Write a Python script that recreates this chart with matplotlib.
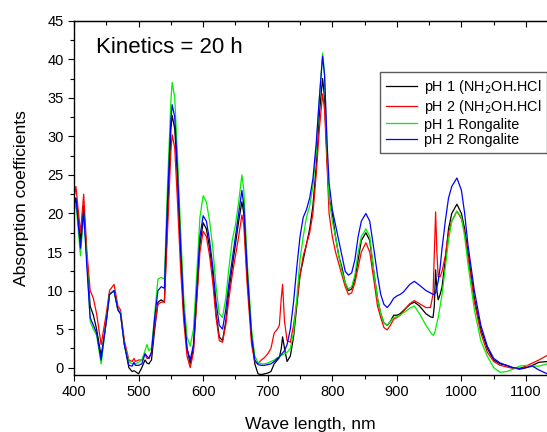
import matplotlib
matplotlib.use("Agg")
import matplotlib.pyplot as plt
from matplotlib.ticker import MultipleLocator

plt.rcParams['font.family'] = ['Liberation Sans', 'DejaVu Sans']

# ---------------- data ----------------
nm = [400, 403, 410, 415, 420, 425, 430, 435, 442, 450, 455, 462, 468, 472, 478,
      485, 490, 493, 495, 500, 505, 510, 513, 516, 520, 525, 530, 535, 540, 545,
      550, 552, 556, 560, 565, 570, 575, 580, 585, 590, 595, 600, 605, 610, 615,
      620, 625, 630, 635, 640, 645, 650, 655, 660, 663, 668, 675, 680, 685, 690,
      695, 700, 705, 710, 715, 718, 721, 723, 726, 730, 735, 740, 745, 750, 755,
      760, 765, 770, 775, 780, 785, 788, 792, 795, 800, 805, 810, 815, 820, 825,
      830, 835, 840, 845, 852, 858, 865, 870, 875, 880, 885, 890, 895, 900, 905,
      910, 915, 920, 927, 935, 945, 952, 956, 958, 960, 962, 964, 967, 970, 975,
      980, 985, 993, 1000, 1005, 1010, 1020, 1030, 1040, 1050, 1060, 1070, 1080,
      1090, 1100, 1110, 1120, 1133]

ph1_nh2oh = [21, 22, 16.5, 21, 14, 8, 6.8, 5, 1.5, 6, 9.5, 10, 7.5, 7, 3,
             0, -0.5, -0.4, -0.5, -0.8, 0, 1, 0.6, 0.5, 1, 5, 8.5, 8.8, 8.5, 20,
             31, 32.7, 31, 25, 15, 7, 2.5, 0.5, 2.5, 9, 16, 18.8, 18, 15.5, 12,
             7, 4, 3.5, 6, 10, 13, 16, 19, 21.5, 20, 12, 4, 0.5, -0.8, -0.9,
             -0.8, -0.7, -0.5, 0.5, 1, 1.3, 2.5, 4, 2.5, 0.8, 1.5, 4, 8, 12, 14,
             16, 18, 21, 26, 33, 37.5, 35, 27, 22, 20, 17, 14.5, 13, 11, 10,
             10.2, 11.5, 14, 16.5, 17.5, 16.5, 12, 9, 7, 5.8, 5.5, 6, 6.8, 6.8, 7,
             7.4, 7.8, 8.2, 8.5, 8, 7, 6.6, 6.5, 8, 12.7, 10, 8.8, 9.5, 10.5, 14,
             18, 20, 21.2, 20, 18, 15, 9, 5, 2.5, 1, 0.5, 0.3, 0,
             -0.2, 0, 0.3, 0.7, 0.8]

ph2_nh2oh = [22, 23.5, 17.5, 22.5, 15, 10, 9, 7, 3, 7, 10, 10.8, 8, 7.5, 3.5,
             1, 0.8, 1.2, 0.8, 1, 1, 1.8, 1.2, 1.2, 2, 5.5, 8.2, 8.5, 8.5, 18,
             28, 30.2, 28.5, 22, 13, 6, 1.5, 0, 2, 8.5, 15, 17.7, 17, 14.5, 11,
             6.5, 3.5, 3.3, 5.5, 9, 12, 14.5, 17, 19.8, 18.5, 11, 3, 0.8, 0.5, 1,
             1.3, 1.8, 2.5, 4.5, 5, 5.5, 9, 10.8, 6, 3.5, 3.3, 5.5, 8.5, 12, 14.5,
             16, 17.5, 20, 25, 31, 35.5, 33.5, 26, 20, 17, 15, 13.5, 12, 10.5, 9.5,
             9.7, 11, 13, 15, 16.2, 15, 11, 8, 6.5, 5.2, 4.9, 5.5, 6.3, 6.5, 6.8,
             7.3, 7.8, 8.3, 8.7, 8.3, 7.8, 7.8, 9.5, 15, 20.2, 15, 11.8, 11.8, 12.5, 14.5,
             17.5, 19, 20.3, 19.3, 17.5, 14.5, 8.5, 4.5, 2, 0.8, 0.3, 0.1, -0.1,
             -0.1, 0.2, 0.6, 1, 1.6]

ph1_rongalite = [20, 21.5, 14.5, 20, 14, 6, 5, 4.2, 0.5, 6, 9.5, 10, 7.5, 7.2, 3,
                 0.8, 0.5, 0.5, 0.5, 0.7, 1, 2.2, 3, 2.2, 2.5, 7, 11.5, 11.7, 11.5, 24,
                 34.5, 37, 35, 28, 18, 9, 4, 2.8, 5, 12, 19.5, 22.3, 21.5, 19, 15.5,
                 10.5, 7, 6.5, 9, 13, 16.5, 18.5, 21.5, 25, 23, 14, 5, 1.5, 0.7, 0.5,
                 0.5, 0.6, 0.8, 1, 1.3, 1.4, 1.6, 1.7, 1.8, 2, 2.5, 4.5, 9, 14, 17,
                 19.5, 21, 23.5, 28, 35, 40.8, 38, 28, 22, 19, 17, 14.5, 12.5, 11, 10.2,
                 10.5, 12, 15, 17, 18, 17, 12, 9, 7, 5.8, 5.5, 6, 6.5, 6.6, 6.8,
                 7.1, 7.4, 7.7, 8, 7, 5.5, 4.6, 4.2, 4.4, 5, 5.8, 6.5, 8, 9.5, 13,
                 16.5, 19, 20.3, 19.5, 17, 13.5, 7.5, 3.5, 1.5, 0, -0.6, -0.5, -0.2,
                 0.2, 0.3, 0.2, 0.2, 0.5]

ph2_rongalite = [21, 22, 15.5, 20.3, 13, 6.5, 5.5, 4.5, 1, 6, 9.5, 10, 7.5, 7, 3,
                 0.3, 0.2, 0.7, 0.3, 0.3, 0.5, 1.8, 1.5, 1.2, 2, 6.5, 10, 10.5, 10.3, 22,
                 32, 34.1, 32.5, 26, 16, 7.5, 2.5, 1, 3, 10, 17, 19.7, 19, 16.5, 13,
                 8.5, 5.5, 5, 7.5, 11, 14, 17, 20, 23, 21, 13, 4, 1, 0.4, 0.3,
                 0.3, 0.4, 0.5, 0.8, 1.2, 1.4, 1.7, 1.9, 2.2, 3, 5, 8.5, 13, 17, 19.5,
                 20.5, 22, 24.5, 29, 35, 40.4, 38, 29, 24, 20.5, 18.5, 16.5, 14.5, 12.5, 12,
                 12.3, 14, 17, 19, 20, 19, 15, 12, 9.5, 8.2, 7.8, 8.3, 9, 9.3, 9.5,
                 9.8, 10.3, 10.8, 11.2, 10.7, 10, 9.7, 9.5, 9.5, 9.7, 10.5, 11.2, 13, 15.5, 19,
                 22, 23.5, 24.6, 23, 20, 16, 10, 5.5, 2.8, 1.2, 0.6, 0.3, 0,
                 -0.1, 0, 0.2, -0.3, -0.8]

labels = ['pH 1 (NH$_2$OH.HCl', 'pH 2 (NH$_2$OH.HCl', 'pH 1 Rongalite', 'pH 2 Rongalite']
colors = ['#000000', '#ff0000', '#00ee00', '#0000ff']

# ---------------- figure ----------------
fig = plt.figure(figsize=(5.47, 4.32), dpi=100)
ax = fig.add_axes([74 / 547, 57 / 432, 1 - 74 / 547, (375 - 20.7) / 432])

for ys, lab, col in zip([ph1_nh2oh, ph2_nh2oh, ph1_rongalite, ph2_rongalite], labels, colors):
    ax.plot(nm, ys, color=col, lw=0.9, label=lab)

ax.set_xlim(400, 1132.5)
ax.set_ylim(-0.95, 45)
ax.xaxis.set_major_locator(MultipleLocator(100))
ax.xaxis.set_minor_locator(MultipleLocator(50))
ax.yaxis.set_major_locator(MultipleLocator(5))
ax.yaxis.set_minor_locator(MultipleLocator(2.5))
ax.tick_params(which='both', direction='out', labelsize=10.5, width=0.8)
ax.tick_params(which='major', length=4)
ax.tick_params(which='minor', length=3)
ax.spines['right'].set_visible(False)
for s in ['left', 'bottom', 'top']:
    ax.spines[s].set_linewidth(1.0)

top = ax.secondary_xaxis('top')
top.xaxis.set_major_locator(MultipleLocator(100))
top.xaxis.set_minor_locator(MultipleLocator(50))
top.tick_params(which='both', direction='in', labeltop=False, width=0.8)
top.tick_params(which='major', length=4)
top.tick_params(which='minor', length=3)

ax.set_xlabel('Wave length, nm', fontsize=12.6, labelpad=13)
ax.set_ylabel('Absorption coefficients', fontsize=12.6, labelpad=13)

ax.text(0.046, 0.923, 'Kinetics = 20 h', transform=ax.transAxes, fontsize=16,
        ha='left', va='center')

leg = ax.legend(loc='upper left', bbox_to_anchor=(380 / 547, 1 - 72 / 432),
                bbox_transform=fig.transFigure, borderaxespad=0, fontsize=10.4,
                handlelength=2.15, handletextpad=0.45, labelspacing=0.12,
                fancybox=False, frameon=True, borderpad=0.42)
leg.get_frame().set_edgecolor('#333333')
leg.get_frame().set_linewidth(1.0)

fig.savefig('out.png', dpi=100)
